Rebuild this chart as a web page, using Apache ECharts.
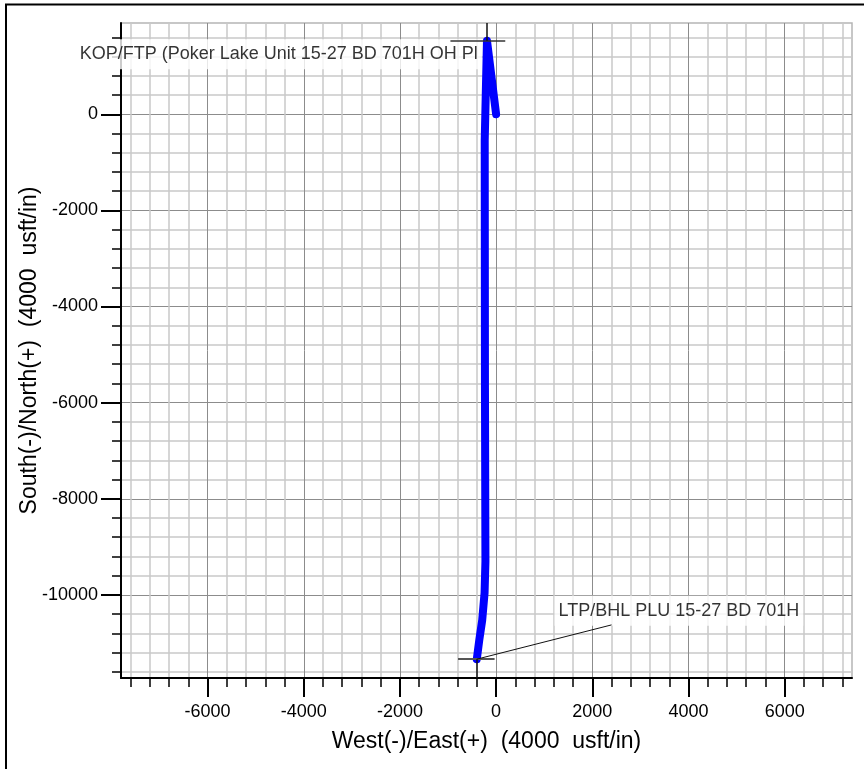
<!DOCTYPE html>
<html>
<head>
<meta charset="utf-8">
<title>Plan View</title>
<script src="https://cdn.jsdelivr.net/npm/echarts@6/dist/echarts.min.js"></script>
<style>
  html, body { margin: 0; padding: 0; background: #fff; }
  #chart { width: 864px; height: 769px; }
</style>
</head>
<body>
<div id="chart"></div>
<script>
  // well path, West(-)/East(+) and South(-)/North(+) in usft
  const pathEW = [0, -190, -237, -232, -222, -240, -290, -350, -402]
  const pathNS = [0, 1530, -540, -5700, -9300, -9960, -10530, -10940, -11338]

  // targets
  const kopPoint = [-190, 1530]
  const bhlPoint = [-402, -11338]

  // annotation text and where it sits
  const annoText = ['KOP/FTP (Poker Lake Unit 15-27 BD 701H OH Pl', 'LTP/BHL PLU 15-27 BD 701H']
  const annoPos = [[-4520, 1250], [3800, -10330]]
  const leaderEnd = [2400, -10625]

  // axes
  const xRange = [-7800, 7400]
  const yRange = [-11730, 1900]
  const xMajorTicks = [-6000, -4000, -2000, 0, 2000, 4000, 6000]
  const yMajorTicks = [-10000, -8000, -6000, -4000, -2000, 0]
  const minorStep = 400

  const minorTicks = (range, majors) => {
    const out = []
    for (let v = Math.ceil(range[0] / minorStep) * minorStep; v <= range[1]; v += minorStep) {
      if (!majors.includes(v) && v % 2000 !== 0) out.push(v)
    }
    return out
  }
  const xMinorTicks = minorTicks(xRange, xMajorTicks)
  const yMinorTicks = minorTicks(yRange, yMajorTicks)

  const font = 'Liberation Sans, Arial, sans-serif'
  const minorGrid = { show: true, lineStyle: { color: '#c9c9c9', width: 1.5 } }
  const majorGrid = { show: true, lineStyle: { color: '#8c8c8c', width: 1 } }
  const plainNum = v => String(v)

  const chart = echarts.init(document.getElementById('chart'))

  const option = {
    animation: false,
    backgroundColor: '#fff',
    grid: {
      left: 121, right: 12, top: 23, bottom: 91,
      show: true, borderColor: '#b5b5b5', borderWidth: 1.5
    },
    xAxis: [
      {
        type: 'value', min: xRange[0], max: xRange[1], position: 'bottom',
        axisLine: { show: true, onZero: false, lineStyle: { color: '#000', width: 2 } },
        axisTick: { show: true, customValues: xMinorTicks, length: 9, lineStyle: { color: '#000', width: 1.5 } },
        axisLabel: { show: false },
        splitLine: minorGrid
      },
      {
        type: 'value', min: xRange[0], max: xRange[1], position: 'bottom',
        axisLine: { show: false, onZero: false },
        axisTick: { show: true, customValues: xMajorTicks, length: 19, lineStyle: { color: '#000', width: 2 } },
        axisLabel: { customValues: xMajorTicks, formatter: plainNum, margin: 25, fontSize: 18, color: '#000', fontFamily: font },
        splitLine: majorGrid,
        name: 'West(-)/East(+)  (4000  usft/in)',
        nameLocation: 'middle',
        nameGap: 52,
        nameTextStyle: { fontSize: 23, color: '#000', fontFamily: font }
      }
    ],
    yAxis: [
      {
        type: 'value', min: yRange[0], max: yRange[1], position: 'left',
        axisLine: { show: true, onZero: false, lineStyle: { color: '#000', width: 2 } },
        axisTick: { show: true, customValues: yMinorTicks, length: 9, lineStyle: { color: '#000', width: 1.5 } },
        axisLabel: { show: false },
        splitLine: minorGrid
      },
      {
        type: 'value', min: yRange[0], max: yRange[1], position: 'left',
        axisLine: { show: false, onZero: false },
        axisTick: { show: true, customValues: yMajorTicks, length: 20, lineStyle: { color: '#000', width: 2 } },
        axisLabel: { customValues: yMajorTicks, formatter: plainNum, margin: 23, fontSize: 18, color: '#000', fontFamily: font },
        splitLine: majorGrid,
        name: 'South(-)/North(+)  (4000  usft/in)',
        nameLocation: 'middle',
        nameGap: 80,
        nameMoveOverlap: false,
        nameTextStyle: { fontSize: 23, color: '#000', fontFamily: font }
      }
    ],
    series: [
      {
        // well path
        type: 'line',
        xAxisIndex: 0, yAxisIndex: 0,
        data: pathEW.map((x, i) => [x, pathNS[i]]),
        symbol: 'none',
        smooth: false,
        z: 4,
        lineStyle: { color: '#0000ff', width: 8, cap: 'round', join: 'round' }
      },
      {
        // annotation boxes
        type: 'scatter',
        xAxisIndex: 0, yAxisIndex: 0,
        symbolSize: 1,
        itemStyle: { color: 'rgba(0,0,0,0)' },
        z: 3,
        data: annoPos.map((p, i) => ({ value: p, name: annoText[i] })),
        label: {
          show: true,
          position: 'inside',
          formatter: '{b}',
          color: '#000',
          textBorderWidth: 0,
          fontSize: 18,
          fontFamily: font,
          backgroundColor: '#fff',
          padding: [6, 4]
        }
      },
      {
        // target crosses and leader line
        type: 'lines',
        coordinateSystem: 'cartesian2d',
        xAxisIndex: 0, yAxisIndex: 0,
        z: 5,
        data: [
          { coords: [[kopPoint[0] - 760, kopPoint[1] + 10], [kopPoint[0] + 380, kopPoint[1] + 10]], lineStyle: { color: '#333', width: 1.5 } },
          { coords: [[kopPoint[0], kopPoint[1]], [kopPoint[0], yRange[1]]], lineStyle: { color: '#111', width: 1.5 } },
          { coords: [[bhlPoint[0] - 390, bhlPoint[1]], [bhlPoint[0] + 370, bhlPoint[1]]], lineStyle: { color: '#555', width: 2 } },
          { coords: [[bhlPoint[0], bhlPoint[1]], [bhlPoint[0], yRange[0]]], lineStyle: { color: '#111', width: 1.5 } },
          { coords: [bhlPoint, leaderEnd], lineStyle: { color: '#111', width: 1 } }
        ],
        lineStyle: { opacity: 1, curveness: 0 }
      }
    ],
    graphic: [
      // page frame, left and top
      { type: 'line', shape: { x1: 6, y1: 4, x2: 6, y2: 769 }, style: { stroke: '#000', lineWidth: 2 } },
      { type: 'line', shape: { x1: 5, y1: 4.5, x2: 864, y2: 4.5 }, style: { stroke: '#000', lineWidth: 2 } }
    ]
  }

  chart.setOption(option)
  window.addEventListener('resize', () => chart.resize())
</script>
</body>
</html>
